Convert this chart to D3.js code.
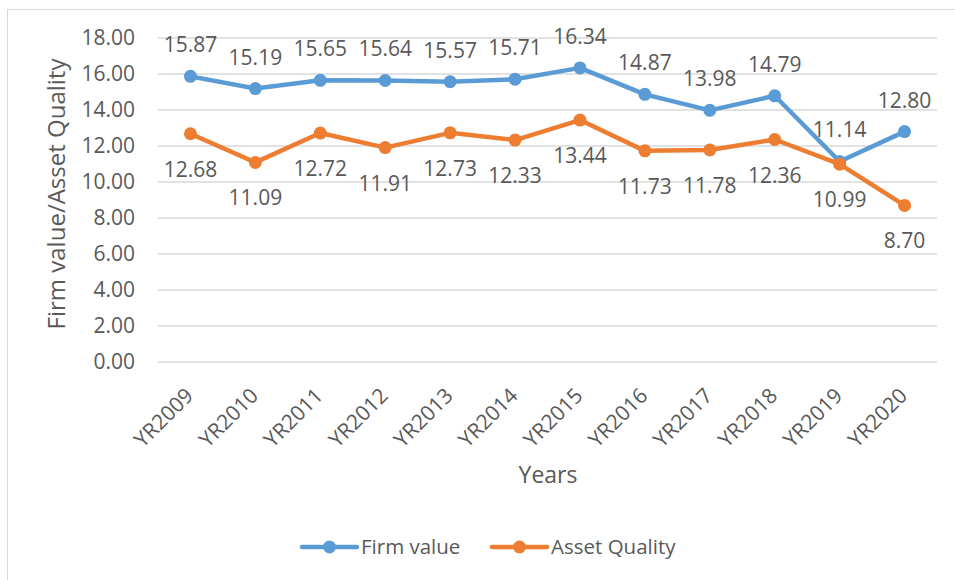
<!DOCTYPE html>
<html>
<head>
<meta charset="utf-8">
<script src="https://cdn.jsdelivr.net/npm/d3@7"></script>
<style>
  body { margin: 0; background: #fff; }
  text { font-family: "Open Sans", sans-serif; fill: #595959; }
</style>
</head>
<body>
<script>
// chart data
var years = ["YR2009", "YR2010", "YR2011", "YR2012", "YR2013", "YR2014",
             "YR2015", "YR2016", "YR2017", "YR2018", "YR2019", "YR2020"];
var firmValue = [15.87, 15.19, 15.65, 15.64, 15.57, 15.71, 16.34, 14.87, 13.98, 14.79, 11.14, 12.80];
var assetQuality = [12.68, 11.09, 12.72, 11.91, 12.73, 12.33, 13.44, 11.73, 11.78, 12.36, 10.99, 8.70];
var yTicks = [0, 2, 4, 6, 8, 10, 12, 14, 16, 18];

var width = 955, height = 580;
var margin = {top: 38, right: 18, bottom: 218, left: 158};

var svg = d3.select("body")
    .append("svg")
        .attr("width", width)
        .attr("height", height);

// chart border
svg.append("rect")
    .attr("x", 7.5).attr("y", 9.5)
    .attr("width", 960).attr("height", 600)
    .attr("fill", "none")
    .attr("stroke", "#d9d9d9")
    .attr("stroke-width", 1);

var g = svg.append("g")
    .attr("transform", "translate(" + margin.left + ", " + margin.top + ")");

var w = width - margin.left - margin.right;
var h = height - margin.top - margin.bottom;

var x = d3.scaleBand()
    .domain(years)
    .range([0, w]);

var y = d3.scaleLinear()
    .domain([0, 18])
    .range([h, 0]);

// gridlines
g.selectAll(".grid")
    .data(yTicks)
    .enter()
    .append("line")
        .attr("class", "grid")
        .attr("x1", 0)
        .attr("x2", w)
        .attr("y1", (d) => y(d))
        .attr("y2", (d) => y(d))
        .attr("stroke", "#d9d9d9")
        .attr("stroke-width", 1.5);

var leftAxis = d3.axisLeft(y)
    .tickValues(yTicks)
    .tickSize(0)
    .tickPadding(23)
    .tickFormat(d3.format(".2f"));
var ya = g.append("g").call(leftAxis);
ya.select(".domain").remove();
ya.selectAll("text").attr("font-size", "21px").style("fill", "#595959");

var bottomAxis = d3.axisBottom(x).tickSize(0);
var xa = g.append("g")
    .attr("transform", "translate(0, " + h + ")")
    .call(bottomAxis);
xa.select(".domain").remove();
xa.selectAll("text")
    .attr("font-size", "21px")
    .attr("text-anchor", "end")
    .attr("dy", 0)
    .attr("y", 0)
    .attr("transform", "translate(4, 35) rotate(-45)")
    .style("fill", "#595959");

var cx = (d, i) => x(years[i]) + x.bandwidth() / 2;

var series = [
    {name: "Firm value", values: firmValue, color: "#5B9BD5"},
    {name: "Asset Quality", values: assetQuality, color: "#ED7D31"}
];

var line = d3.line()
    .x((d, i) => cx(d, i))
    .y((d) => y(d));

series.forEach((s) => {
    g.append("path")
        .datum(s.values)
        .attr("d", line)
        .attr("fill", "none")
        .attr("stroke", s.color)
        .attr("stroke-width", 4.5)
        .attr("stroke-linejoin", "round")
        .attr("stroke-linecap", "round");

    g.selectAll(null)
        .data(s.values)
        .enter()
        .append("circle")
            .attr("cx", cx)
            .attr("cy", (d) => y(d))
            .attr("r", 6.5)
            .attr("fill", s.color);
});

// data labels: firm value above, asset quality below
g.selectAll(null)
    .data(firmValue)
    .enter()
    .append("text")
        .attr("x", cx)
        .attr("y", (d) => y(d) - 24)
        .attr("text-anchor", "middle")
        .attr("font-size", "21px")
        .text((d) => d.toFixed(2));

g.selectAll(null)
    .data(assetQuality)
    .enter()
    .append("text")
        .attr("x", cx)
        .attr("y", (d) => y(d) + 43)
        .attr("text-anchor", "middle")
        .attr("font-size", "21px")
        .text((d) => d.toFixed(2));

// axis titles
svg.append("text")
    .attr("x", 548)
    .attr("y", 483)
    .attr("font-size", "23px")
    .attr("text-anchor", "middle")
    .text("Years");

svg.append("text")
    .attr("x", -194)
    .attr("y", 65)
    .attr("font-size", "24px")
    .attr("text-anchor", "middle")
    .attr("transform", "rotate(-90)")
    .text("Firm value/Asset Quality");

// legend
var legend = svg.append("g").attr("transform", "translate(0, 547)");
var lx = [302, 492];
series.forEach((s, i) => {
    legend.append("line")
        .attr("x1", lx[i]).attr("x2", lx[i] + 55)
        .attr("y1", 0).attr("y2", 0)
        .attr("stroke", s.color)
        .attr("stroke-width", 4.5)
        .attr("stroke-linecap", "round");
    legend.append("circle")
        .attr("cx", lx[i] + 27.5).attr("cy", 0)
        .attr("r", 6.5)
        .attr("fill", s.color);
    legend.append("text")
        .attr("x", lx[i] + 59)
        .attr("y", 0)
        .attr("dy", "0.35em")
        .attr("font-size", "20.5px")
        .text(s.name);
});
</script>
</body>
</html>
